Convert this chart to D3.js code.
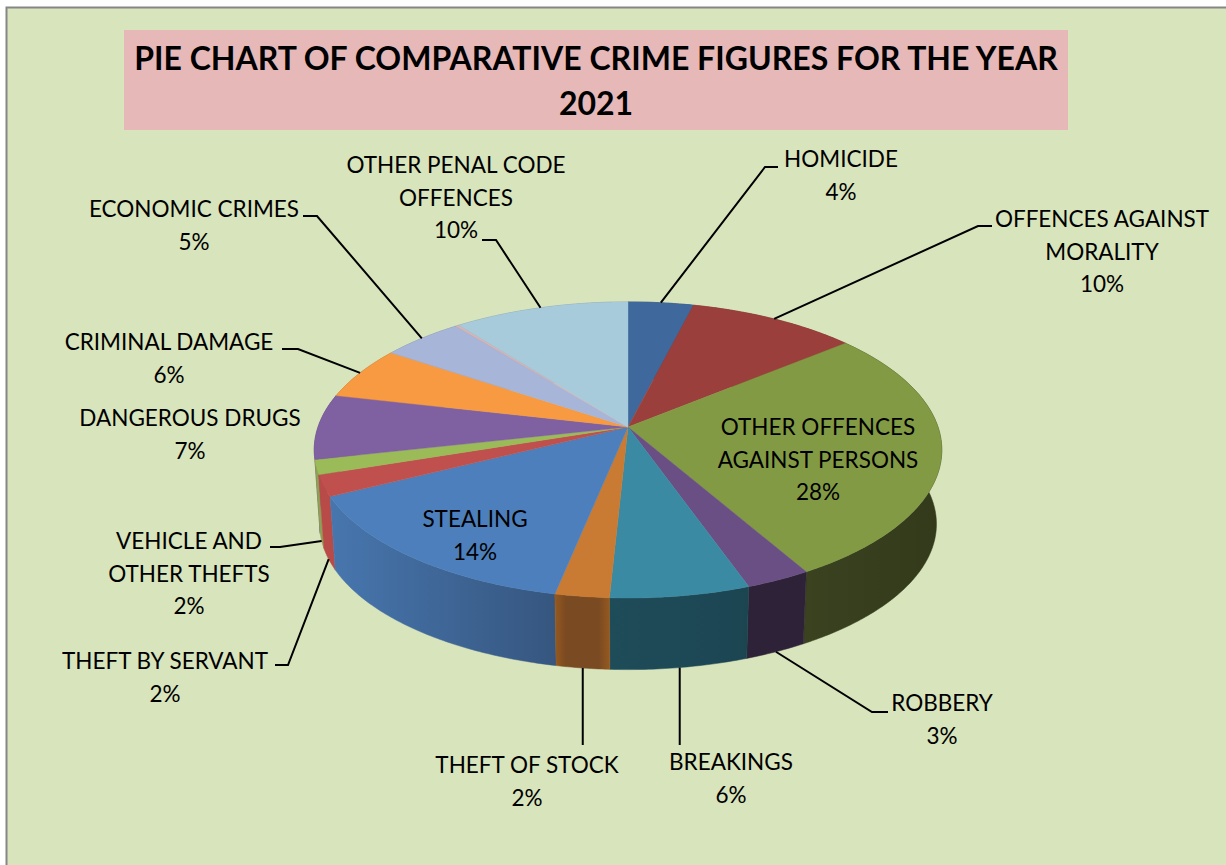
<!DOCTYPE html>
<html><head><meta charset="utf-8">
<script src="https://cdn.jsdelivr.net/npm/d3@7/dist/d3.min.js"></script>
<style>html,body{margin:0;padding:0;background:#fff;overflow:hidden}svg{display:block}text{font-family:Lato,"Noto Sans",sans-serif;fill:#000}</style>
</head><body><svg id="c" width="1226" height="865"></svg>
<script>
const titleLines = ["PIE CHART OF COMPARATIVE CRIME FIGURES FOR THE YEAR", "2021"];
const categories = ["HOMICIDE","OFFENCES AGAINST|MORALITY","OTHER OFFENCES|AGAINST PERSONS","ROBBERY","BREAKINGS","THEFT OF STOCK","STEALING","THEFT BY SERVANT","VEHICLE AND|OTHER THEFTS","DANGEROUS DRUGS","CRIMINAL DAMAGE","ECONOMIC CRIMES","","OTHER PENAL CODE|OFFENCES"];
const values = [3.9,10.1,27.7,2.9,6.2,2.4,14.4,2.3,1.6,7.1,5.8,4.9,0.2,10.49];
const topColors = ["#3f689c","#9a3f3c","#839a45","#6a4f85","#3a8aa3","#c97a33","#4d7fbd","#c0504d","#9bbb59","#7f60a1","#f79a42","#a6b5d8","#d9b4b4","#a8cbdc"];
const sideColors = [["#2c4a70","#2c4a70"],["#6e2c2a","#6e2c2a"],["#3a4220","#323a1b"],["#2e2238","#2e2238"],["#1f4c59","#1c4552"],["#96591f","#7a4a22"],["#4776ae","#36567f"],["#b84a47","#b84a47"],["#8f9f55","#8f9f55"],["#5a4474","#5a4474"],["#b06c30","#b06c30"],["#76819a","#76819a"],["#998080","#998080"],["#78919d","#78919d"]];
// label placement: centre x, first baseline; leader: elbow, end; rim: which rim it leaves from
const labelLayout = [
 {cx:841,y:167,elbow:[765,167],end:[778,167],rim:"top"},
 {cx:1102,y:227,elbow:[978,226],end:[992,226],rim:"top"},
 {cx:818,y:435},
 {cx:942,y:711,elbow:[872,712],end:[888,712],rim:"bottom"},
 {cx:731,y:770,elbow:[null,745],end:[null,745],rim:"bottom"},
 {cx:527,y:773,elbow:[null,745],end:[null,745],rim:"bottom"},
 {cx:475,y:527},
 {cx:165,y:669,elbow:[288,665],end:[275,665],rim:"bottom"},
 {cx:189,y:549,elbow:[280,547],end:[270,547],rim:"bottom"},
 {cx:190,y:426},
 {cx:169,y:350,elbow:[298,349],end:[282,349],rim:"top"},
 {cx:194,y:217,elbow:[317,216],end:[303,216],rim:"top"},
 null,
 {cx:456,y:173,elbow:[496,240],end:[482,240],rim:"top"}
];
const W=1226,H=865,LH=32.7;
const svg=d3.select("#c");
svg.append("rect").attr("x",6.5).attr("y",7.5).attr("width",W).attr("height",H).attr("fill","#d8e4bc").attr("stroke","#868686").attr("stroke-width",2);
svg.append("rect").attr("x",124).attr("y",30).attr("width",944).attr("height",100).attr("fill","#e6b8b7");
svg.selectAll("text.t").data(titleLines).join("text").attr("class","t").attr("x",596).attr("y",(d,i)=>70+i*44.5)
  .attr("text-anchor","middle").attr("font-weight",700).attr("font-size",32).text(d=>d);

// perspective disc: unit-circle coordinates mapped to the picture
const K=0.155, px=d3.scaleLinear().domain([-1,1]).range([628-310,628+310]), py=d3.scaleLinear().domain([-1,1]).range([427-144.5,427+144.5]);
const SH=0.983, DROP=74.5;
function proj(a,r,bottom){
  const u=r*Math.sin(a), v=-r*Math.cos(a), w=1-K*v;
  const x=(px(u)-628)/w, y=(py(v)-427)/w;
  const s=bottom?SH:1;
  return [628+s*x, 427+s*y+(bottom?DROP:0)];
}
const arcs=d3.pie().sort(null).startAngle(0).endAngle(2*Math.PI)(values);
const line=d3.line().curve(d3.curveLinear);
function rim(d,bottom){const n=Math.max(2,Math.ceil((d.endAngle-d.startAngle)*90));return d3.range(n+1).map(i=>proj(d.startAngle+(d.endAngle-d.startAngle)*i/n,1,bottom));}
const defs=svg.append("defs");
const depth=d=>-Math.cos((d.startAngle+d.endAngle)/2);
const order=arcs.slice().sort((a,b)=>depth(a)-depth(b));
// walls
order.forEach(d=>{
  const t=rim(d,false),b=rim(d,true),pts=t.concat(b.slice().reverse());
  const xs=pts.map(p=>p[0]),id="g"+d.index,sc=sideColors[d.index];
  const g=defs.append("linearGradient").attr("id",id).attr("gradientUnits","userSpaceOnUse")
    .attr("x1",d3.min(xs)).attr("x2",d3.max(xs)).attr("y1",0).attr("y2",0);
  g.append("stop").attr("offset",0).attr("stop-color",sc[0]);
  if(d.index===5){g.append("stop").attr("offset",.2).attr("stop-color",sc[1]);g.append("stop").attr("offset",.8).attr("stop-color",sc[1]);g.append("stop").attr("offset",1).attr("stop-color",sc[0]);}
  else g.append("stop").attr("offset",1).attr("stop-color",sc[1]);
  svg.append("path").attr("d",line(pts)+"Z").attr("fill",`url(#${id})`).attr("stroke",`url(#${id})`).attr("stroke-width",.5);
});
// top faces
svg.selectAll("path.f").data(arcs).join("path").attr("class","f")
  .attr("d",d=>line([[628,427]].concat(rim(d,false)))+"Z").attr("fill",d=>topColors[d.index]).attr("stroke",d=>topColors[d.index]).attr("stroke-width",.4);
// leaders
arcs.forEach(d=>{
  const l=labelLayout[d.index]; if(!l||!l.elbow) return;
  const s=proj((d.startAngle+d.endAngle)/2,1,l.rim==="bottom");
  const e=[l.elbow[0]===null?s[0]:l.elbow[0],l.elbow[1]],f=[l.end[0]===null?s[0]:l.end[0],l.end[1]];
  svg.append("path").attr("d",line([s,e,f])).attr("fill","none").attr("stroke","#000").attr("stroke-width",2);
});
// labels
arcs.forEach(d=>{
  const l=labelLayout[d.index]; if(!l) return;
  const rows=categories[d.index].split("|").concat([Math.round(d.value)+"%"]);
  rows.forEach((r,i)=>svg.append("text").attr("x",l.cx).attr("y",l.y+i*LH).attr("text-anchor","middle").attr("font-size",22.5).text(r));
});
</script></body></html>
